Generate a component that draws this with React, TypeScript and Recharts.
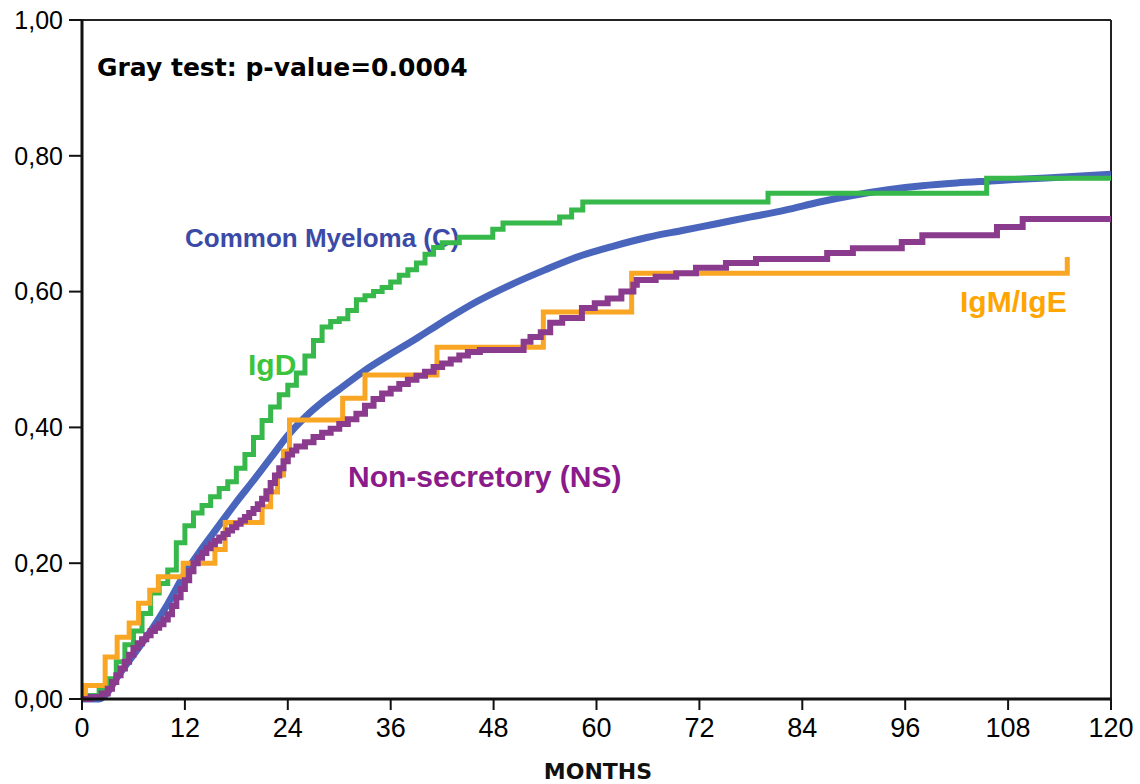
import React from "react";
import { LineChart, Line, XAxis, YAxis, ReferenceLine, Customized } from "recharts";

// Cumulative incidence, months vs value
const monthTicks = [0, 12, 24, 36, 48, 60, 72, 84, 96, 108, 120];
const valueTicks = [0, 0.2, 0.4, 0.6, 0.8, 1.0];

const commonMyeloma: [number, number][] = [
  [0, 0], [2, 0], [3, 0.01], [4, 0.03], [6, 0.065], [8, 0.1], [10, 0.14], [12, 0.185],
  [14, 0.222], [16, 0.256], [18, 0.29], [20, 0.322], [22, 0.355], [24, 0.388], [26, 0.415],
  [28, 0.437], [30, 0.456], [33, 0.484], [36, 0.508], [39, 0.531], [42, 0.555], [46, 0.585],
  [50, 0.61], [54, 0.632], [58, 0.652], [62, 0.667], [66, 0.68], [70, 0.69], [74, 0.7],
  [78, 0.71], [82, 0.72], [86, 0.732], [90, 0.742], [94, 0.75], [98, 0.756], [102, 0.76],
  [106, 0.763], [110, 0.766], [115, 0.769], [120, 0.773],
];

const igD: [number, number][] = [
  [0, 0], [1, 0.005], [2, 0.013], [3, 0.03], [4, 0.055], [5, 0.08], [6, 0.1], [7, 0.126],
  [8, 0.156], [9, 0.17], [10, 0.19], [11, 0.23], [12, 0.255], [13, 0.274], [14, 0.285],
  [15, 0.298], [16, 0.31], [17, 0.32], [18, 0.34], [19, 0.36], [20, 0.385], [21, 0.41],
  [22, 0.43], [23, 0.448], [24, 0.462], [25, 0.48], [26, 0.505], [27, 0.528], [28, 0.548],
  [29, 0.556], [30, 0.56], [31, 0.572], [32, 0.588], [33, 0.594], [34, 0.6], [35, 0.606],
  [36, 0.614], [37, 0.624], [38, 0.632], [39, 0.642], [40, 0.655], [41, 0.665], [42, 0.672],
  [44, 0.68], [47.9, 0.692], [49.1, 0.701], [55.7, 0.71], [57.1, 0.72], [58.4, 0.732],
  [80, 0.745], [105.5, 0.767], [120, 0.767],
];

const igMigE: [number, number][] = [
  [0, 0], [0.4, 0.02], [2.7, 0.062], [4.1, 0.091], [5.5, 0.112], [6.6, 0.141], [7.9, 0.16],
  [8.9, 0.18], [11.8, 0.2], [15.5, 0.22], [16.7, 0.26], [21, 0.283], [22, 0.305],
  [22.8, 0.33], [23.5, 0.365], [24.2, 0.411], [30.4, 0.443], [33, 0.477], [41.4, 0.518],
  [53.8, 0.57], [64.1, 0.627], [114.9, 0.651],
];

const nonSecretory: [number, number][] = [
  [0, 0], [1, 0.003], [2.3, 0.008], [3, 0.015], [3.5, 0.025], [4, 0.035], [4.5, 0.045],
  [5, 0.055], [5.5, 0.065], [6, 0.075], [6.5, 0.082], [7, 0.088], [7.5, 0.094], [8, 0.1],
  [8.5, 0.105], [9, 0.11], [9.5, 0.117], [10, 0.125], [10.5, 0.137], [11, 0.15],
  [11.5, 0.162], [12, 0.175], [12.5, 0.188], [13, 0.2], [13.5, 0.208], [14, 0.215],
  [14.5, 0.222], [15, 0.228], [15.5, 0.233], [16, 0.238], [16.5, 0.243], [17, 0.248],
  [17.5, 0.253], [18, 0.258], [18.5, 0.263], [19, 0.268], [19.5, 0.274], [20, 0.28],
  [20.5, 0.287], [21, 0.295], [21.5, 0.306], [22, 0.318], [22.5, 0.329], [23, 0.34],
  [23.5, 0.35], [24, 0.36], [24.5, 0.366], [25, 0.372], [26, 0.378], [27, 0.386], [28, 0.392],
  [29, 0.398], [30, 0.405], [31, 0.412], [32, 0.42], [33, 0.432], [34, 0.442], [35, 0.45],
  [36, 0.457], [37, 0.464], [38, 0.47], [39, 0.476], [40, 0.482], [41, 0.489], [42, 0.494],
  [43, 0.5], [44, 0.506], [45, 0.511], [46.4, 0.514], [51.5, 0.526], [52.3, 0.533],
  [53.5, 0.54], [54.6, 0.554], [56, 0.561], [58.3, 0.576], [59.8, 0.583], [61.3, 0.59],
  [62.9, 0.6], [64.3, 0.61], [64.7, 0.617], [66.9, 0.622], [69.3, 0.627], [71.6, 0.635],
  [75.1, 0.642], [78.6, 0.648], [86.9, 0.657], [89.9, 0.664], [95.6, 0.673], [98, 0.683],
  [106.7, 0.695], [109.7, 0.707], [120, 0.707],
];

const toRows = (pts: [number, number][]) => pts.map(([x, y]) => ({ x, y }));

const Annotations = () => (
  <g>
    <text x={97} y={76} fontFamily="DejaVu Sans" fontWeight="bold" fontSize={25} fill="#000">
      Gray test: p-value=0.0004
    </text>
    <text x={185} y={247} fontFamily="Liberation Sans" fontWeight="bold" fontSize={26} fill="#3b4aa6">
      Common Myeloma (C)
    </text>
    <text x={248} y={375} fontFamily="Liberation Sans" fontWeight="bold" fontSize={30} fill="#3cc43c">
      IgD
    </text>
    <text x={348} y={487} fontFamily="Liberation Sans" fontWeight="bold" fontSize={30} fill="#8b1a8b">
      Non-secretory (NS)
    </text>
    <text x={960} y={312} fontFamily="Liberation Sans" fontWeight="bold" fontSize={30} fill="#ffa500">
      IgM/IgE
    </text>
    <text x={598} y={779} textAnchor="middle" fontFamily="DejaVu Sans" fontWeight="bold" fontSize={22} fill="#111">
      MONTHS
    </text>
  </g>
);

export default function App() {
  return (
    <div style={{ position: "absolute", left: 0, top: 0, width: 1140, height: 784, background: "#fff" }}>
      <LineChart width={1140} height={784} margin={{ top: 20, right: 29, left: 0, bottom: 0 }}>
        <XAxis
          dataKey="x"
          type="number"
          domain={[0, 120]}
          ticks={monthTicks}
          allowDataOverflow
          height={85}
          tickSize={11}
          tickMargin={8}
          axisLine={{ stroke: "#111", strokeWidth: 3 }}
          tickLine={{ stroke: "#111", strokeWidth: 2 }}
          tick={{ fill: "#000", fontSize: 27, fontFamily: "Liberation Sans" }}
        />
        <YAxis
          type="number"
          domain={[0, 1]}
          ticks={valueTicks}
          width={82}
          tickSize={13}
          tickMargin={6}
          axisLine={{ stroke: "#111", strokeWidth: 3 }}
          tickLine={{ stroke: "#111", strokeWidth: 2 }}
          tick={{ fill: "#000", fontSize: 25, fontFamily: "Liberation Sans" }}
          tickFormatter={(v: number) => v.toFixed(2).replace(".", ",")}
        />
        <ReferenceLine y={1} stroke="#222" strokeWidth={2} ifOverflow="extendDomain" />
        <ReferenceLine x={120} stroke="#222" strokeWidth={2} />
        <Line
          data={toRows(commonMyeloma)}
          dataKey="y"
          type="monotone"
          stroke="#4a66bc"
          strokeWidth={7}
          dot={false}
          isAnimationActive={false}
        />
        <Line
          data={toRows(igD)}
          dataKey="y"
          type="stepAfter"
          stroke="#36b84a"
          strokeWidth={5}
          dot={false}
          isAnimationActive={false}
        />
        <Line
          data={toRows(igMigE)}
          dataKey="y"
          type="stepAfter"
          stroke="#f8a623"
          strokeWidth={5}
          dot={false}
          isAnimationActive={false}
        />
        <Line
          data={toRows(nonSecretory)}
          dataKey="y"
          type="stepAfter"
          stroke="#8a3b8e"
          strokeWidth={6}
          dot={false}
          isAnimationActive={false}
        />
        <Customized component={Annotations} />
      </LineChart>
    </div>
  );
}
